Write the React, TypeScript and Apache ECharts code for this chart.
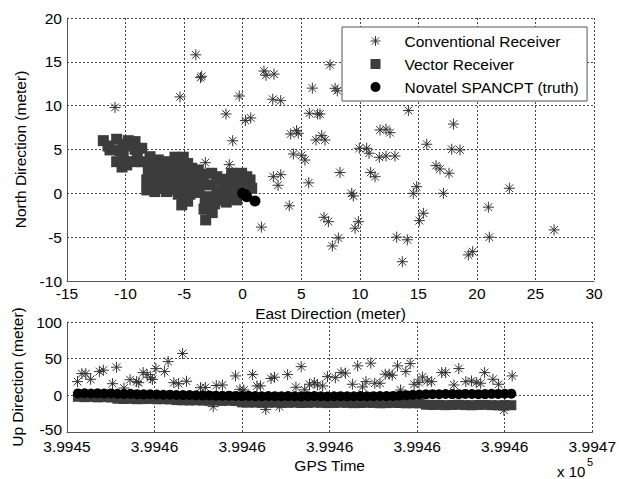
import React, { useEffect, useRef } from 'react';
import * as echarts from 'echarts';

const FONT = '"Liberation Sans", Arial, Helvetica, sans-serif';
const FS = 15.5;

// ---------- Horizontal (East / North) ----------
const conventionalEN: [number, number][] = [
  [-10.9, 9.8], [-4.0, 15.8], [-3.6, 13.2], [-3.5, 13.35], [-5.35, 11.0], [-0.29, 11.1],
  [-1.42, 9.05], [0.23, 8.3], [0.69, 8.6], [-0.85, 6.0], [-3.19, 3.5], [-1.14, 3.27],
  [1.82, 13.95], [1.99, 13.46], [2.68, 13.6], [2.57, 10.73], [3.25, 10.57], [4.1, 6.77],
  [4.6, 7.15], [4.75, 6.85], [4.33, 4.49], [5.04, 4.34], [5.32, 3.8], [2.62, 1.9],
  [3.25, 2.13], [3.02, 0.92], [5.64, 1.2], [3.98, -1.42], [1.6, -3.85], [5.95, 12.0],
  [7.46, 14.66], [7.89, 11.98], [8.08, 11.7], [5.69, 9.13], [6.4, 9.05], [6.6, 9.05],
  [14.15, 9.45], [18.0, 7.9], [6.75, 6.58], [6.26, 6.09], [7.03, 6.09], [11.73, 7.23],
  [12.24, 7.31], [12.58, 6.92], [9.96, 5.14], [10.59, 5.14], [10.79, 4.57], [11.67, 4.11],
  [12.24, 4.26], [13.0, 4.26], [15.72, 5.6], [17.85, 5.03], [18.56, 4.95], [16.51, 3.16],
  [16.85, 2.78], [17.62, 2.29], [8.31, 2.38], [10.93, 2.38], [11.3, 1.9], [9.31, 0.0],
  [9.45, -0.3], [14.57, 0.0], [14.86, 0.76], [17.14, 0.0], [22.77, 0.58], [20.98, -1.58],
  [15.43, -2.27], [15.09, -3.11], [6.95, -2.73], [7.32, -3.23], [9.88, -3.23], [9.6, -3.98],
  [26.59, -4.17], [8.17, -5.1], [13.15, -5.0], [14.06, -5.3], [7.66, -6.0], [13.63, -7.8],
  [21.06, -5.0], [19.27, -7.02], [19.64, -6.65],
];

const vectorEN: [number, number][] = [
  [-11.9, 6.01], [-10.76, 6.17], [-9.77, 6.01], [-9.19, 5.9], [-11.33, 4.95], [-10.47, 4.87],
  [-9.19, 5.03], [-8.62, 5.14], [-10.76, 3.61], [-9.9, 3.24], [-9.47, 3.61], [-7.91, 4.18],
  [-7.2, 3.81], [-6.63, 3.61], [-5.78, 4.12], [-5.07, 4.12], [-8.06, 2.67], [-7.34, 2.67],
  [-6.63, 2.67], [-5.92, 2.86], [-5.2, 2.67], [-4.35, 2.86], [-3.79, 2.67], [-8.19, 1.53],
  [-7.34, 1.33], [-6.49, 1.53], [-5.63, 1.72], [-4.92, 1.53], [-4.07, 1.53], [-3.36, 1.72],
  [-2.64, 2.29], [-8.19, 0.39], [-6.91, 0.58], [-6.06, 0.58], [-4.92, 0.39], [-4.07, 0.76],
  [-5.07, -0.56], [-5.2, -1.32], [-2.79, 0.96], [-2.79, -0.38], [-2.79, -1.52], [-3.16, -3.03],
  [-1.93, 1.53], [-1.51, 0.96], [-0.94, 1.72], [-0.23, 1.9], [0.63, 1.53], [0.77, 0.58],
  [-1.79, -0.38], [-0.94, -0.38], [-0.51, -0.75], [-2.22, -0.75], [-5.92, 0.39],
  [-0.94, 2.29], [-0.09, 2.29], [0.35, 1.9],
  [-11.5, 5.4], [-10.2, 5.6], [-9.6, 5.4], [-10.2, 4.3], [-9.0, 4.3], [-8.6, 3.6],
  [-10.3, 3.0], [-7.7, 3.2], [-6.9, 3.2], [-6.0, 3.5], [-5.4, 3.4], [-4.7, 3.4],
  [-4.5, 2.1], [-3.5, 2.2], [-7.7, 2.0], [-6.9, 2.0], [-6.1, 2.1], [-5.3, 2.1],
  [-7.7, 0.9], [-6.5, 1.0], [-5.6, 0.9], [-4.5, 1.1], [-3.6, 1.0], [-7.5, 0.2],
  [-6.5, 0.2], [-5.5, -0.1], [-4.5, -0.1], [-3.7, 0.1], [-4.7, -0.9],
  [-2.2, 1.9], [-1.4, 1.6], [-0.6, 1.3], [0.2, 1.2], [-2.2, 0.3], [-1.3, 0.2],
  [-0.4, 0.4], [-2.4, -1.2], [-1.4, -1.0], [-3.2, -0.7], [-3.3, -1.8], [-2.6, -2.2],
];

const truthEN: [number, number][] = [
  [0.0, 0.0], [0.14, -0.07], [0.35, -0.38], [0.2, -0.2], [1.05, -0.87],
];

// ---------- Up vs GPS time ----------
const gpsTime: number[] = [
  399452.25, 399452.40, 399452.55, 399452.70, 399452.85, 399453.00, 399453.15, 399453.30,
  399453.45, 399453.60, 399453.75, 399453.90, 399454.05, 399454.20, 399454.35, 399454.50,
  399454.65, 399454.80, 399454.95, 399455.10, 399455.25, 399455.40, 399455.55, 399455.70,
  399455.85, 399456.00, 399456.15, 399456.30, 399456.45, 399456.60, 399456.75, 399456.90,
  399457.05, 399457.20, 399457.35, 399457.50, 399457.65, 399457.80, 399457.95, 399458.10,
  399458.25, 399458.40, 399458.55, 399458.70, 399458.85, 399459.00, 399459.15, 399459.30,
  399459.45, 399459.60, 399459.75, 399459.90, 399460.05, 399460.20, 399460.35, 399460.50,
  399460.65, 399460.80, 399460.95, 399461.10, 399461.25, 399461.40, 399461.55, 399461.70,
  399461.85, 399462.00, 399462.15,
];

const truthUp: number[] = [
  2.6, 2.8, 2.5, 2.7, 2.4, 2.6, 2.1, 1.9, 2.0, 1.6, 1.4, 1.5, 1.1, 0.8, 0.9,
  0.5, 0.3, 0.4, 0.0, -0.2, -0.1, -0.4, -0.6, -0.5, -0.8, -0.9, -0.7,
  -1.0, -1.2, -0.9, -1.1, -1.3, -1.0, -1.2, -1.4, -1.1, -1.0, -1.3, -1.5, -1.2, -1.1,
  -1.4, -1.2, -1.0, -1.3, -1.1, -0.9, -1.0, -0.8, -0.3, 0.2, 0.7, 1.1,
  1.4, 1.6, 1.5, 1.8, 1.7, 1.6, 1.9, 1.8, 1.6, 1.7, 2.0, 1.9, 2.1, 2.3,
];

const vectorUp: number[] = [
  -2.0, -2.5, -2.2, -2.8, -2.4, -3.0, -4.6, -5.0, -4.8, -5.3, -5.1, -4.9, -5.4, -5.2, -5.6,
  -6.5, -6.8, -7.0, -6.7, -7.2, -7.4, -7.1, -7.6, -7.3, -7.8,
  -9.6, -10.0, -9.8, -10.3, -10.1, -9.9, -10.4, -10.2, -10.0, -10.5, -10.3, -9.9, -10.2, -10.6,
  -10.4, -10.1, -10.3, -10.7, -10.5, -10.2, -10.4, -10.8, -10.6, -10.3, -10.5, -10.9, -10.7, -11.0,
  -12.8, -13.2, -13.0, -13.4, -13.1, -12.9, -13.3, -13.5, -13.2, -13.0, -13.4, -13.6, -13.3, -13.5,
];

const conventionalUp: [number, number][] = [
  [399452.24, 18.7], [399452.34, 29.6], [399452.43, 29.6], [399452.54, 21.9], [399452.74, 32.4],
  [399452.83, 34.3], [399453.04, 15.9], [399453.13, 38.4], [399453.30, 10.0], [399453.44, 21.3],
  [399453.59, 18.7], [399453.64, 17.3], [399453.74, 31.0], [399453.83, 28.3], [399453.91, 24.1],
  [399453.95, 21.7], [399454.03, 36.4], [399454.23, 32.4], [399454.31, 46.0], [399454.64, 57.1],
  [399454.44, 17.3], [399454.55, 15.9], [399454.73, 19.2], [399455.05, 10.4], [399455.16, 10.7],
  [399455.41, 13.4], [399455.55, 14.1], [399455.34, -15.4], [399455.85, 26.5], [399455.95, 8.2],
  [399456.04, 7.3], [399456.24, 28.3], [399456.34, 12.8], [399456.42, 12.8], [399456.54, -19.2],
  [399456.66, 23.0], [399456.74, 24.7], [399456.85, -15.4], [399457.04, 28.3], [399457.23, 11.0],
  [399457.35, 39.1], [399457.43, 7.5], [399457.54, 15.1], [399457.65, 17.3], [399457.72, 14.1],
  [399457.84, 12.8], [399457.95, 25.5], [399458.13, 24.1], [399458.26, 31.0], [399458.36, 30.2],
  [399458.52, 15.1], [399458.64, 40.2], [399458.75, 11.4], [399458.83, 18.7], [399458.94, 43.9],
  [399459.03, 16.5], [399459.15, 16.5], [399459.27, 28.8], [399459.36, 28.8], [399459.43, 27.4],
  [399459.55, 40.2], [399459.74, 32.6], [399459.84, 43.3], [399459.62, 7.3], [399459.93, 15.1],
  [399460.04, 17.3], [399460.12, 25.1], [399460.23, 19.6], [399460.33, 18.7], [399460.56, 31.0],
  [399460.65, 31.0], [399460.84, 14.1], [399460.95, 36.5], [399461.11, 18.7], [399461.24, 19.6],
  [399461.35, 17.3], [399461.45, 16.5], [399461.54, 31.0], [399461.73, 21.9], [399461.86, 15.1],
  [399462.17, 26.5], [399461.98, -20.2],
];

const timeTickLabels: string[] = ['3.9945', '3.9946', '3.9946', '3.9946', '3.9946', '3.9946', '3.9947'];
const TIME_MIN = 399452;
const TIME_STEP = 2;
const TIME_MAX = 399464;
const UP_MIN = -50;

const seriesNames = ['Conventional Receiver', 'Vector Receiver', 'Novatel SPANCPT (truth)'];

const ASTERISK = 'path://M5,0L5,10M0,5L10,5M1.5,1.5L8.5,8.5M1.5,8.5L8.5,1.5';
const SQUARE = 'path://M0,0L10,0L10,10L0,10Z';
const CIRCLE = 'path://M5,0A5,5,0,1,1,5,10A5,5,0,1,1,5,0Z';

const STAR_COLOR = '#333';
const SQUARE_COLOR = '#3c3c3c';
const CIRCLE_COLOR = '#000';

const axisText = { fontFamily: FONT, fontSize: FS, color: '#000' };
const gridLine = { show: true, lineStyle: { color: '#444', type: [2, 2] as number[], width: 1 } };
const axisLine = { show: true, onZero: false, lineStyle: { color: '#555', width: 1 } };

export default function App() {
  const ref = useRef<HTMLDivElement>(null);

  useEffect(() => {
    if (!ref.current) return;
    const chart = echarts.init(ref.current, undefined, { renderer: 'svg' });

    const option: any = {
      animation: false,
      backgroundColor: '#fff',
      textStyle: { fontFamily: FONT },
      grid: [
        { left: 67, top: 18, width: 527, height: 263 },
        { left: 67, top: 322, width: 527, height: 110 },
      ],
      xAxis: [
        {
          gridIndex: 0, type: 'value', min: -15, max: 30, interval: 5,
          name: 'East Direction (meter)', nameLocation: 'middle', nameGap: 22,
          nameTextStyle: axisText,
          axisLine, axisTick: { show: false }, splitLine: gridLine,
          axisLabel: { ...axisText, margin: 4 },
        },
        {
          gridIndex: 1, type: 'value', min: TIME_MIN, max: TIME_MAX, interval: TIME_STEP,
          name: 'GPS Time', nameLocation: 'middle', nameGap: 25,
          nameTextStyle: axisText,
          axisLine, axisTick: { show: false }, splitLine: gridLine,
          axisLabel: {
            ...axisText, margin: 8, lineHeight: 13,
            formatter: (v: number) => timeTickLabels[Math.round((v - TIME_MIN) / TIME_STEP)] ?? '',
          },
        },
      ],
      yAxis: [
        {
          gridIndex: 0, type: 'value', min: -10, max: 20, interval: 5,
          name: 'North Direction (meter)', nameLocation: 'middle', nameGap: 36,
          nameTextStyle: axisText,
          axisLine, axisTick: { show: false }, splitLine: gridLine,
          axisLabel: { ...axisText, margin: 5 },
        },
        {
          gridIndex: 1, type: 'value', min: UP_MIN, max: 100, interval: 50,
          name: 'Up Direction (meter)', nameLocation: 'middle', nameGap: 37,
          nameTextStyle: axisText,
          axisLine, axisTick: { show: false }, splitLine: gridLine,
          axisLabel: {
            ...axisText, margin: 5, lineHeight: 13,
            formatter: (v: number) => (v === UP_MIN ? `{lo|${v}}` : `${v}`),
            rich: { lo: { fontFamily: FONT, fontSize: FS, color: '#000', lineHeight: 13, padding: [0, 0, 6, 0] } },
          },
        },
      ],
      legend: {
        show: true,
        selectedMode: false,
        orient: 'vertical',
        left: 342,
        top: 27,
        padding: [6, 8, 6, 28],
        itemWidth: 10,
        itemHeight: 10,
        itemGap: 7,
        backgroundColor: '#fff',
        borderColor: '#555',
        borderWidth: 1,
        borderRadius: 0,
        textStyle: { fontFamily: FONT, fontSize: FS, color: '#000', padding: [0, 0, 0, 19] },
        data: [
          { name: seriesNames[0], icon: ASTERISK, itemStyle: { color: STAR_COLOR, borderColor: STAR_COLOR, borderWidth: 1 } },
          { name: seriesNames[1], icon: SQUARE, itemStyle: { color: SQUARE_COLOR, borderWidth: 0 } },
          { name: seriesNames[2], icon: CIRCLE, itemStyle: { color: CIRCLE_COLOR, borderWidth: 0 } },
        ],
        z: 10,
      },
      graphic: [
        {
          type: 'text', x: 557, y: 471,
          style: { text: 'x 10', font: `15px ${FONT}`, fill: '#000', verticalAlign: 'middle', align: 'left' },
        },
        {
          type: 'text', x: 587, y: 462,
          style: { text: '5', font: `11px ${FONT}`, fill: '#000', verticalAlign: 'middle', align: 'left' },
        },
      ],
      series: [
        {
          name: seriesNames[0], type: 'scatter', xAxisIndex: 0, yAxisIndex: 0,
          symbol: ASTERISK, symbolSize: 11, data: conventionalEN,
          itemStyle: { color: STAR_COLOR, borderColor: STAR_COLOR, borderWidth: 1, opacity: 1 },
        },
        {
          name: seriesNames[1], type: 'scatter', xAxisIndex: 0, yAxisIndex: 0,
          symbol: 'rect', symbolSize: 11, data: vectorEN,
          itemStyle: { color: SQUARE_COLOR, opacity: 1 },
        },
        {
          name: seriesNames[2], type: 'scatter', xAxisIndex: 0, yAxisIndex: 0,
          symbol: 'circle', symbolSize: 11, data: truthEN,
          itemStyle: { color: CIRCLE_COLOR, opacity: 1 },
        },
        {
          name: seriesNames[0], type: 'scatter', xAxisIndex: 1, yAxisIndex: 1,
          symbol: ASTERISK, symbolSize: 11, data: conventionalUp,
          itemStyle: { color: STAR_COLOR, borderColor: STAR_COLOR, borderWidth: 1, opacity: 1 },
        },
        {
          name: seriesNames[1], type: 'scatter', xAxisIndex: 1, yAxisIndex: 1,
          symbol: 'rect', symbolSize: 10,
          data: gpsTime.map((t, i) => [t, vectorUp[i]]),
          itemStyle: { color: SQUARE_COLOR, opacity: 1 },
        },
        {
          name: seriesNames[2], type: 'scatter', xAxisIndex: 1, yAxisIndex: 1,
          symbol: 'circle', symbolSize: 10,
          data: gpsTime.map((t, i) => [t, truthUp[i]]),
          itemStyle: { color: CIRCLE_COLOR, opacity: 1 },
        },
      ],
    };

    chart.setOption(option);
    return () => chart.dispose();
  }, []);

  return (
    <div
      ref={ref}
      style={{ position: 'fixed', left: 0, top: 0, width: 619, height: 479, background: '#fff' }}
    />
  );
}
